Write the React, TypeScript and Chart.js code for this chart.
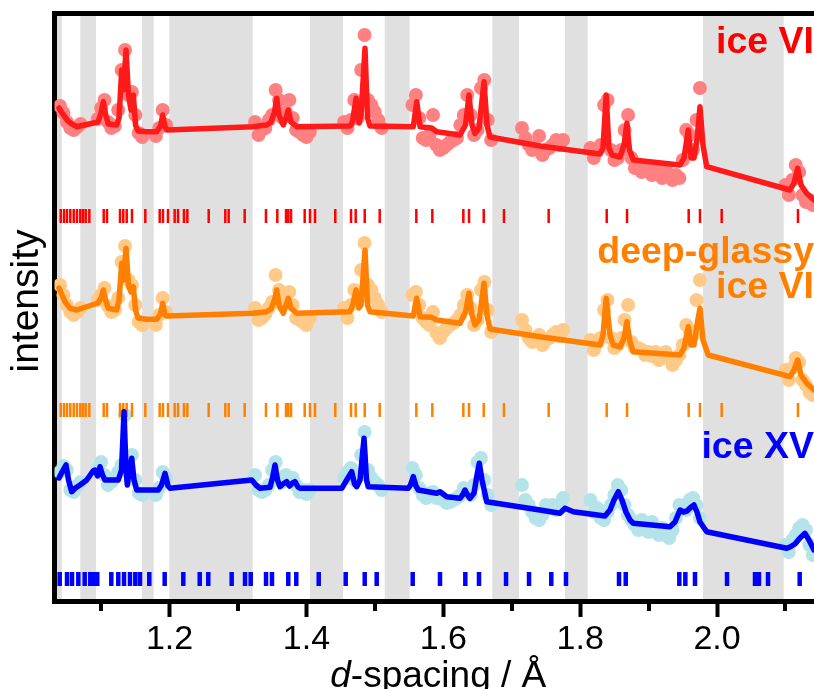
import React, { useEffect, useRef } from 'react';
import { Chart, registerables } from 'chart.js';

Chart.register(...registerables);

const FONT = '"Liberation Sans", Arial, Helvetica, sans-serif';

// ---------- axis ----------
const X_MIN = 1.0319;
const X_MAX = 2.1417;
const MAJOR_TICKS = [1.2, 1.4, 1.6, 1.8, 2.0];
const MINOR_TICKS = [1.1, 1.3, 1.5, 1.7, 1.9, 2.1];

// excluded (grey) d-spacing regions
const BAND_START = [1.0319, 1.0696, 1.1598, 1.1997, 1.4053, 1.5144, 1.6716, 1.7779, 1.9795];
const BAND_END = [1.0425, 1.0925, 1.1769, 1.3215, 1.4535, 1.5509, 1.7106, 1.8110, 2.0974];

// ---------- observed data (shared d grid) ----------
const OBS_D = [
  1.040, 1.045, 1.050, 1.055, 1.060, 1.065, 1.070,
  1.095, 1.100, 1.105, 1.110, 1.115, 1.120, 1.125, 1.130, 1.135, 1.140, 1.145, 1.150, 1.155, 1.160,
  1.180, 1.185, 1.190, 1.195,
  1.325, 1.330, 1.335, 1.340, 1.345, 1.350, 1.355, 1.360, 1.365, 1.370, 1.375, 1.380, 1.385, 1.390, 1.395, 1.400, 1.405,
  1.455, 1.460, 1.465, 1.470, 1.475, 1.480, 1.485, 1.490, 1.495, 1.500, 1.505, 1.510,
  1.555, 1.560, 1.565, 1.570, 1.575, 1.580, 1.585, 1.590, 1.595, 1.600, 1.605, 1.610, 1.615, 1.620, 1.625, 1.630, 1.635, 1.640, 1.645, 1.650, 1.655, 1.660, 1.665, 1.670,
  1.715, 1.720, 1.725, 1.730, 1.735, 1.740, 1.745, 1.750, 1.755, 1.760, 1.765, 1.770, 1.775,
  1.815, 1.820, 1.825, 1.830, 1.835, 1.840, 1.845, 1.850, 1.855, 1.860, 1.865, 1.870, 1.875, 1.880, 1.885, 1.890, 1.895, 1.900, 1.905, 1.910, 1.915, 1.920, 1.925, 1.930, 1.935, 1.940, 1.945, 1.950, 1.955, 1.960, 1.965, 1.970, 1.975,
  2.100, 2.105, 2.110, 2.115, 2.120, 2.125, 2.130, 2.135, 2.140,
];

const RED_OBS = [
  495, 488, 479, 473, 471, 474, 477,
  482, 493, 501, 479, 473, 475, 491, 531, 551, 506, 509, 486, 468, 464,
  465, 473, 491, 476,
  479, 466, 471, 473, 481, 486, 511, 501, 483, 489, 501, 483, 471, 469, 466, 464, 469,
  479, 473, 481, 501, 483, 531, 566, 501, 496, 489, 481, 473,
  496, 506, 483, 463, 461, 466, 486, 456, 451, 453, 456, 459, 461, 463, 476, 486, 506, 486, 466, 471, 513, 521, 481, 461,
  473, 463, 456, 451, 453, 465, 446, 451, 453, 456, 461, 456, 461,
  453, 443, 451, 456, 496, 501, 451, 441, 443, 451, 471, 486, 443, 433, 436, 429, 431, 433, 426, 429, 431, 423, 433, 426, 421, 426, 423, 441, 471, 466, 451, 481, 513,
  416, 406, 421, 436, 429, 406, 399, 401, 396,
];

const ORANGE_OBS = [
  316, 306, 296, 289, 286, 289, 293,
  301, 306, 313, 295, 289, 291, 303, 339, 355, 321, 316, 296, 279, 276,
  276, 286, 303, 289,
  293, 281, 283, 287, 293, 299, 326, 311, 296, 301, 309, 296, 283, 281, 279, 276, 283,
  293, 283, 296, 311, 301, 331, 358, 316, 311, 303, 296, 289,
  306, 309, 296, 283, 279, 276, 289, 268, 263, 269, 273, 276, 278, 281, 286, 296, 306, 293, 276, 281, 311, 319, 291, 269,
  281, 271, 263, 259, 261, 266, 256, 261, 263, 266, 269, 265, 271,
  261, 251, 258, 263, 291, 301, 263, 253, 256, 263, 281, 296, 259, 253, 253, 251, 246, 249, 245, 249, 241, 243, 249, 243, 236, 241, 246, 256, 276, 271, 266, 301, 321,
  231, 221, 233, 243, 239, 221, 216, 209, 206,
];

const BLUE_OBS = [
  129, 135, 131, 111, 109, 115, 119,
  133, 139, 126, 116, 119, 123, 129, 136, 186, 131, 146, 121, 108, 106,
  106, 113, 129, 123,
  126, 111, 109, 111, 116, 131, 139, 121, 119, 126, 123, 123, 116, 109, 111, 107, 111,
  123, 129, 133, 121, 126, 146, 169, 131, 123, 119, 116, 111,
  133, 126, 113, 106, 103, 108, 109, 103, 105, 101, 98, 99, 101, 103, 106, 113, 111, 106, 116, 139, 143, 121, 106, 96,
  116, 101, 96, 89, 83, 81, 86, 96, 93, 96, 91, 96, 103,
  101, 89, 93, 83, 81, 89, 96, 106, 116, 111, 96, 86, 81, 76, 71, 81, 73, 69, 79, 71, 66, 73, 66, 63, 71, 83, 96, 93, 91, 101, 103, 96, 83,
  56, 49, 61, 66, 73, 76, 71, 56, 46,
];

// ---------- fitted profiles ----------
const RED_FIT_D = [
  1.0385, 1.0429, 1.0472, 1.0516, 1.0575, 1.0643, 1.0955, 1.0999, 1.1032, 1.1064, 1.1105,
  1.1228, 1.1262, 1.1301, 1.1327, 1.1364, 1.1400, 1.1437, 1.1471, 1.1503, 1.1539,
  1.1666, 1.1812, 1.1868, 1.1900, 1.1934, 1.1963,
  1.3220, 1.3351, 1.3420, 1.3483, 1.3534, 1.3566, 1.3599, 1.3662, 1.3702, 1.3735, 1.3775, 1.3858,
  1.4637, 1.4673, 1.4725, 1.4768, 1.4798, 1.4856, 1.4893, 1.4929,
  1.5562, 1.5612, 1.5660, 1.5831, 1.5904,
  1.6244, 1.6325, 1.6376, 1.6420, 1.6463, 1.6522, 1.6595, 1.6639, 1.6683,
  1.7413,
  1.8290, 1.8334, 1.8380, 1.8421, 1.8465, 1.8582, 1.8641, 1.8683, 1.8721, 1.8776,
  1.9459, 1.9517, 1.9580, 1.9620, 1.9663, 1.9707, 1.9751, 1.9795, 1.9849,
  2.1066, 2.1125, 2.1179, 2.1227, 2.1310, 2.1417,
];
const RED_FIT = [
  493, 488, 484, 480, 477, 474.3, 479, 488, 499.3, 487, 477,
  476, 483, 531, 511, 551, 506, 491, 506, 476, 470,
  469.3, 469.3, 475, 486, 474, 471,
  474.3, 475.5, 476, 479, 489, 502.7, 486, 476, 483, 491, 479, 474.3,
  475, 479, 502.7, 478, 486, 552.7, 483, 475,
  474.3, 499.3, 474.3, 473, 469.3,
  466, 476, 506, 476, 467.7, 473, 519.3, 476, 464,
  455,
  447, 453, 506, 453, 446, 444, 456, 477.7, 451, 441,
  436, 443, 471, 443, 443, 461, 494.3, 456, 434.3,
  411, 418, 432.7, 416, 407.7, 401,
];

const ORANGE_FIT_D = [
  1.0385, 1.0429, 1.0472, 1.0546, 1.0643, 1.0955, 1.0999, 1.1032, 1.1064, 1.1105,
  1.1228, 1.1262, 1.1301, 1.1327, 1.1364, 1.1400, 1.1437, 1.1471, 1.1503, 1.1539,
  1.1666, 1.1812, 1.1868, 1.1900, 1.1934, 1.1963,
  1.3224, 1.3420, 1.3483, 1.3534, 1.3566, 1.3599, 1.3662, 1.3702, 1.3735, 1.3775, 1.3858,
  1.4637, 1.4673, 1.4725, 1.4768, 1.4798, 1.4856, 1.4893, 1.4929,
  1.5562, 1.5612, 1.5660, 1.5831, 1.5904,
  1.6244, 1.6325, 1.6376, 1.6420, 1.6463, 1.6522, 1.6595, 1.6639, 1.6683,
  1.7413,
  1.8290, 1.8334, 1.8380, 1.8436, 1.8484, 1.8582, 1.8641, 1.8683, 1.8728, 1.8776,
  1.9459, 1.9517, 1.9580, 1.9620, 1.9663, 1.9707, 1.9751, 1.9795, 1.9872,
  2.1066, 2.1125, 2.1179, 2.1227, 2.1310, 2.1417,
];
const ORANGE_FIT = [
  313, 306, 299.3, 292.7, 291, 298, 303, 311, 301, 292.7,
  291, 301, 337.7, 321, 352.7, 316, 309, 314.3, 291, 283,
  281.7, 281.7, 287, 297.7, 286, 285,
  287.7, 289.3, 292, 301, 311, 296, 287.7, 296, 302.7, 293, 287.7,
  289.3, 295, 311, 293, 296, 351, 296, 289.3,
  285, 302.7, 284.3, 283.7, 281,
  277.7, 289, 307.7, 286, 276, 281, 317.7, 286, 272,
  264.3,
  256, 266, 302.7, 266, 256, 254, 263, 279.3, 259, 249.3,
  246, 253, 274.3, 256, 256, 276, 292.7, 261, 246,
  224.3, 231, 241, 226, 217.7, 211,
];

const BLUE_FIT_D = [
  1.0385, 1.0429, 1.0487, 1.0524, 1.0570, 1.0619, 1.0692, 1.0790, 1.0882, 1.0911, 1.0947, 1.0984, 1.1020, 1.1057,
  1.1251, 1.1298, 1.1335, 1.1364, 1.1383, 1.1415, 1.1447, 1.1481, 1.1520,
  1.1836, 1.1883, 1.1934, 1.1978, 1.2007,
  1.3201, 1.3263, 1.3322, 1.3468, 1.3504, 1.3541, 1.3578, 1.3614, 1.3658, 1.3712, 1.3753, 1.3797, 1.3833, 1.3877, 1.3906,
  1.4516, 1.4589, 1.4662, 1.4703, 1.4735, 1.4783, 1.4842, 1.4878, 1.4904,
  1.5489, 1.5521, 1.5562, 1.5601, 1.5635, 1.5904, 1.5952, 1.6050, 1.6244, 1.6281, 1.6317, 1.6354, 1.6390,
  1.6449, 1.6493, 1.6526, 1.6566, 1.6634,
  1.7413, 1.7705, 1.7779, 1.7900,
  1.8363, 1.8436, 1.8494, 1.8557, 1.8611, 1.8670, 1.8728, 1.8776,
  1.9313, 1.9386, 1.9459, 1.9510, 1.9561, 1.9605, 1.9663, 1.9707, 1.9751, 1.9849,
  2.1018, 2.1066, 2.1139, 2.1212, 2.1285, 2.1344, 2.1417,
];
const BLUE_FIT = [
  123, 129, 136, 121, 109.3, 112.7, 116, 121, 130, 131, 125, 134.3, 126, 121,
  121, 131, 189.3, 131, 116, 131, 142.7, 121, 111,
  111, 116, 127.7, 115, 112.7,
  121, 116, 112.7, 113.7, 123, 136, 121, 114.3, 117, 119.3, 115, 118, 119.3, 114, 112.7,
  112.7, 121, 129.3, 117, 114.3, 121, 162.7, 121, 114.3,
  112.7, 116, 124.3, 115, 111, 107.7, 109.3, 104.3, 102.7, 106, 111, 106, 102.7,
  108, 126, 137.7, 121, 99.3,
  91, 87.7, 92.7, 89.3,
  85, 91, 101, 109.3, 101, 89, 81, 77.7,
  74.3, 79, 91, 89, 90, 93, 96, 89, 79, 69.3,
  52.7, 54, 57, 63, 67.7, 61, 51,
];

// ---------- reflection markers ----------
const ICE_VI_REFL = [
  1.0410, 1.0458, 1.0502, 1.0550, 1.0600, 1.0648, 1.0696, 1.0736, 1.0775, 1.0828,
  1.1038, 1.1086, 1.1276, 1.1324, 1.1374, 1.1451, 1.1646, 1.1856, 1.1904, 1.1977,
  1.2075, 1.2124, 1.2211, 1.2260, 1.2572, 1.2815, 1.2864, 1.3098, 1.3409, 1.3575,
  1.3702, 1.3735, 1.3775, 1.3975, 1.4052, 1.4126, 1.4422, 1.4652, 1.4720, 1.4852,
  1.5071, 1.5606, 1.5840, 1.6293, 1.6376, 1.6591, 1.6887, 1.7540, 1.8388, 1.8685,
  1.9586, 1.9751, 2.0068, 2.1183,
];
const ICE_XV_REFL = [
  1.0395, 1.0502, 1.0575, 1.0667, 1.0760, 1.0842, 1.0882, 1.0944, 1.1149, 1.1251,
  1.1335, 1.1422, 1.1500, 1.1568, 1.1704, 1.1929, 1.2201, 1.2441, 1.2566, 1.2908,
  1.3103, 1.3186, 1.3410, 1.3497, 1.3735, 1.3852, 1.4180, 1.4574, 1.4852, 1.5027,
  1.5553, 1.5952, 1.6322, 1.6522, 1.6917, 1.7253, 1.7578, 1.7793, 1.8568, 1.8666,
  1.9449, 1.9537, 1.9678, 2.0146, 2.0555, 2.0613, 2.0745, 2.1208,
];

// marker row levels (intensity units)
const RED_ROW = 385;
const ORANGE_ROW = 191;
const BLUE_ROW = 22;

const toXY = (xs: number[], ys: number[]) => xs.map((x, i) => ({ x, y: ys[i] }));
const toRow = (xs: number[], y: number) => xs.map((x) => ({ x, y }));

const bandsPlugin = {
  id: 'bands',
  beforeDraw(chart: any) {
    const { ctx, chartArea } = chart;
    const xs = chart.scales.x;
    ctx.save();
    ctx.fillStyle = '#e0e0e0';
    BAND_START.forEach((a, i) => {
      const x1 = Math.max(chartArea.left, xs.getPixelForValue(a));
      const x2 = Math.min(chartArea.right, xs.getPixelForValue(BAND_END[i]));
      ctx.fillRect(x1, chartArea.top, x2 - x1, chartArea.bottom - chartArea.top);
    });
    ctx.restore();
  },
};

const decorPlugin = {
  id: 'decor',
  afterDraw(chart: any) {
    const { ctx, chartArea } = chart;
    const xs = chart.scales.x;
    ctx.save();
    // minor ticks
    ctx.strokeStyle = '#000';
    ctx.lineWidth = 4;
    MINOR_TICKS.forEach((v) => {
      const px = Math.round(xs.getPixelForValue(v));
      if (px < chartArea.left || px > chartArea.right) return;
      ctx.beginPath();
      ctx.moveTo(px, chartArea.bottom + 2.5);
      ctx.lineTo(px, chartArea.bottom + 10);
      ctx.stroke();
    });
    // x-axis title with italic d
    const size = 37;
    const italic = `italic ${size}px ${FONT}`;
    const normal = `${size}px ${FONT}`;
    ctx.font = italic;
    const w1 = ctx.measureText('d').width;
    ctx.font = normal;
    const rest = '-spacing / Å';
    const w2 = ctx.measureText(rest).width;
    const cx = (chartArea.left + chartArea.right) / 2 + 4;
    const startX = cx - (w1 + w2) / 2;
    const baseY = 687;
    ctx.fillStyle = '#000';
    ctx.textBaseline = 'alphabetic';
    ctx.textAlign = 'left';
    ctx.font = italic;
    ctx.fillText('d', startX, baseY);
    ctx.font = normal;
    ctx.fillText(rest, startX + w1, baseY);

    // y-axis title
    ctx.save();
    ctx.translate(27, 301);
    ctx.rotate(-Math.PI / 2);
    ctx.font = `39px ${FONT}`;
    ctx.textAlign = 'center';
    ctx.textBaseline = 'middle';
    ctx.fillText('intensity', 0, 0);
    ctx.restore();

    // phase labels
    ctx.font = `bold 37.5px ${FONT}`;
    ctx.textAlign = 'right';
    ctx.textBaseline = 'alphabetic';
    const rx = 814;
    ctx.fillStyle = '#ff0000';
    ctx.fillText('ice VI', rx, 53);
    ctx.fillStyle = '#ff8000';
    ctx.fillText('deep-glassy', rx, 263);
    ctx.fillText('ice VI', rx, 298);
    ctx.fillStyle = '#0000ff';
    ctx.fillText('ice XV', rx, 458);
    ctx.restore();
  },
};

export default function App() {
  const ref = useRef<HTMLCanvasElement>(null);
  useEffect(() => {
    document.body.style.margin = '0';
    const canvas = ref.current!;
    const obsStyle = (color: string) => ({
      showLine: false,
      pointRadius: 7,
      pointHoverRadius: 7,
      pointBackgroundColor: color,
      pointBorderWidth: 0,
      borderColor: color,
      backgroundColor: color,
      order: 3,
    });
    const fitStyle = (color: string) => ({
      showLine: true,
      pointRadius: 0,
      borderColor: color,
      borderWidth: 5.5,
      borderJoinStyle: 'round',
      borderCapStyle: 'round',
      tension: 0,
      fill: false,
      order: 1,
    });
    const markStyle = (color: string, w: number) => ({
      showLine: false,
      pointStyle: 'line',
      rotation: 90,
      pointRadius: 7,
      pointHoverRadius: 7,
      pointBorderWidth: w,
      borderColor: color,
      pointBorderColor: color,
      order: 2,
    });
    const chart = new Chart(canvas, {
      type: 'scatter',
      data: {
        datasets: [
          { label: 'ice VI obs', data: toXY(OBS_D, RED_OBS), ...obsStyle('#ff8080') } as any,
          { label: 'deep-glassy obs', data: toXY(OBS_D, ORANGE_OBS), ...obsStyle('#ffc987') } as any,
          { label: 'ice XV obs', data: toXY(OBS_D, BLUE_OBS), ...obsStyle('#b4e3ea') } as any,
          { label: 'ice VI fit', data: toXY(RED_FIT_D, RED_FIT), ...fitStyle('#ff1a1a') } as any,
          { label: 'deep-glassy fit', data: toXY(ORANGE_FIT_D, ORANGE_FIT), ...fitStyle('#ff8000') } as any,
          { label: 'ice XV fit', data: toXY(BLUE_FIT_D, BLUE_FIT), ...fitStyle('#0000ff') } as any,
          { label: 'ice VI refl', data: toRow(ICE_VI_REFL, RED_ROW), ...markStyle('#ff0000', 2.5) } as any,
          { label: 'deep-glassy refl', data: toRow(ICE_VI_REFL, ORANGE_ROW), ...markStyle('#ff8000', 2.5) } as any,
          { label: 'ice XV refl', data: toRow(ICE_XV_REFL, BLUE_ROW), ...markStyle('#0000ff', 4.5) } as any,
        ],
      },
      options: {
        responsive: false,
        animation: false,
        devicePixelRatio: 1,
        layout: { padding: 0, autoPadding: false },
        plugins: { legend: { display: false }, tooltip: { enabled: false } },
        events: [],
        scales: {
          x: {
            type: 'linear',
            position: 'bottom',
            min: X_MIN,
            max: X_MAX,
            afterBuildTicks: (s: any) => {
              s.ticks = MAJOR_TICKS.map((v) => ({ value: v }));
            },
            afterFit: (s: any) => {
              s.height = 88;
            },
            ticks: {
              font: { family: FONT, size: 34 },
              color: '#000',
              padding: 2,
              maxRotation: 0,
              autoSkip: false,
              callback: (v: any) => Number(v).toFixed(1),
            },
            grid: { drawOnChartArea: false, drawTicks: true, tickLength: 16, tickWidth: 4, tickColor: '#000' },
            border: { display: true, width: 5, color: '#000' },
          },
          x2: {
            type: 'linear',
            position: 'top',
            min: X_MIN,
            max: X_MAX,
            ticks: { display: false },
            grid: { drawOnChartArea: false, drawTicks: false },
            border: { display: true, width: 5, color: '#000' },
            afterFit: (s: any) => {
              s.height = 13;
            },
          },
          y: {
            type: 'linear',
            position: 'left',
            min: 0,
            max: 588,
            ticks: { display: false },
            grid: { drawOnChartArea: false, drawTicks: false },
            border: { display: true, width: 5, color: '#000' },
            title: { display: false },
            afterFit: (s: any) => {
              s.width = 54.5;
            },
          },
        },
      },
      plugins: [bandsPlugin, decorPlugin],
    } as any);
    return () => chart.destroy();
  }, []);
  return (
    <div style={{ position: 'absolute', left: 0, top: 0, width: 814, height: 689 }}>
      <canvas ref={ref} width={814} height={689} style={{ display: 'block', width: 814, height: 689 }} />
    </div>
  );
}
